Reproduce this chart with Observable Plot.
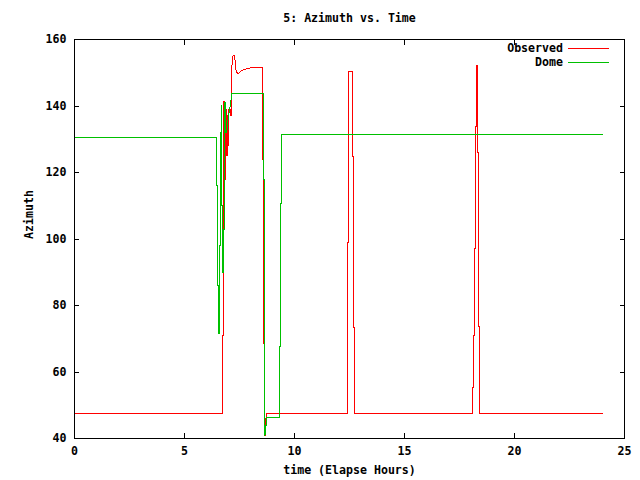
<!DOCTYPE html>
<html>
<head>
<meta charset="utf-8">
<script src="https://cdn.jsdelivr.net/npm/d3@7"></script>
<script src="https://cdn.jsdelivr.net/npm/@observablehq/plot@0.6"></script>
<style>
  html, body { margin: 0; padding: 0; background: #fff; }
  #wrap { position: relative; width: 640px; height: 480px; }
  .legend { position: absolute; font-family: "DejaVu Sans Mono", monospace; font-size: 11.6px; font-weight: bold; color: #000; }
  .legend .label { position: absolute; white-space: nowrap; height: 14px; line-height: 14px; text-align: right; }
  .legend .swatch { position: absolute; width: 41px; height: 1px; }
</style>
</head>
<body>
<div id="wrap"></div>
<script>
// Series: Observed (red)
const obsTime = [0, 6.74, 6.74, 6.79, 6.79, 6.83, 6.83, 6.86, 6.86, 6.9, 6.9, 6.94, 6.94, 6.98, 6.98, 7.02, 7.02, 7.08, 7.08, 7.14, 7.14, 7.2, 7.25, 7.3, 7.35, 7.43, 7.6, 7.75, 8.0, 8.56, 8.56, 8.6, 8.6, 8.64, 8.64, 8.67, 8.67, 8.72, 8.72, 12.42, 12.42, 12.47, 12.47, 12.65, 12.65, 12.7, 12.7, 12.74, 12.74, 18.08, 18.08, 18.12, 18.12, 18.17, 18.17, 18.21, 18.21, 18.26, 18.26, 18.33, 18.33, 18.38, 18.38, 18.42, 18.42, 24];
const obsAz   = [47.5, 47.5, 71, 71, 141.4, 141.4, 118, 118, 139, 139, 125, 125, 137, 137, 128, 128, 139, 139, 137, 137, 151.2, 155, 155.2, 153.7, 150.3, 149.7, 150.7, 151, 151.5, 151.7, 124, 124, 68.5, 68.5, 41, 41, 46, 46, 47.5, 47.5, 99, 99, 150.5, 150.5, 124.8, 124.8, 73.3, 73.3, 47.4, 47.4, 55.4, 55.4, 71, 71, 97, 97, 133.8, 133.8, 152.2, 152.2, 126.1, 126.1, 73.7, 73.7, 47.4, 47.4];

// Series: Dome (green)
const domeTime = [0, 6.47, 6.47, 6.51, 6.51, 6.56, 6.56, 6.6, 6.6, 6.63, 6.63, 6.67, 6.67, 6.7, 6.7, 6.74, 6.74, 6.78, 6.78, 6.83, 6.83, 6.87, 6.87, 6.92, 6.95, 7.0, 7.05, 7.1, 7.15, 8.58, 8.58, 8.62, 8.62, 8.66, 8.66, 8.72, 8.72, 9.33, 9.33, 9.37, 9.37, 9.42, 9.42, 24];
const domeAz   = [130.6, 130.6, 116, 116, 86, 86, 71.5, 71.5, 98, 98, 132, 132, 140.2, 140.2, 110, 110, 90, 90, 103, 103, 141, 141, 132, 132, 134, 137, 139, 141, 143.7, 143.7, 118, 118, 41, 41, 44, 44, 46.2, 46.2, 67.7, 67.7, 110.7, 110.7, 131.5, 131.5];

const xTicks = [0, 5, 10, 15, 20, 25];
const yTicks = [40, 60, 80, 100, 120, 140, 160];
const seriesNames = ["Observed", "Dome"];
const seriesColors = ["#ff0000", "#00c000"];
const titleText = "5: Azimuth vs. Time";
const xLabel = "time (Elapse Hours)";
const yLabel = "Azimuth";

const obs = obsTime.map((t, i) => ({t, az: obsAz[i]}));
const dome = domeTime.map((t, i) => ({t, az: domeAz[i]}));

const chart = Plot.plot({
  width: 640,
  height: 480,
  marginLeft: 74,
  marginRight: 16,
  marginTop: 39,
  marginBottom: 42,
  style: {fontFamily: "'DejaVu Sans Mono', monospace", fontSize: "11.6px", fontWeight: "bold", background: "#fff", color: "#000"},
  x: {domain: [0, 25], ticks: xTicks},
  y: {domain: [40, 160], ticks: yTicks},
  marks: [
    Plot.line(obs, {x: "t", y: "az", stroke: seriesColors[0], strokeWidth: 1, curve: "linear", shapeRendering: "crispEdges"}),
    Plot.line(dome, {x: "t", y: "az", stroke: seriesColors[1], strokeWidth: 1, curve: "linear", shapeRendering: "crispEdges"}),
    Plot.frame({stroke: "#000", strokeWidth: 1, shapeRendering: "crispEdges"}),
    Plot.axisX(xTicks, {anchor: "bottom", tickSize: -5, tickPadding: 13, label: null, shapeRendering: "crispEdges", fill: "#000"}),
    Plot.axisX(xTicks, {anchor: "top", tickSize: -5, tickFormat: () => "", label: null, shapeRendering: "crispEdges"}),
    Plot.axisY(yTicks, {anchor: "left", tickSize: -5, tickPadding: 13, label: null, shapeRendering: "crispEdges", fill: "#000"}),
    Plot.axisY(yTicks, {anchor: "right", tickSize: -5, tickFormat: () => "", label: null, shapeRendering: "crispEdges"}),
    Plot.text([titleText], {frameAnchor: "top", dy: -21, lineAnchor: "middle", fill: "#000"}),
    Plot.text([xLabel], {frameAnchor: "bottom", dy: 32, lineAnchor: "middle", fill: "#000"}),
    Plot.text([yLabel], {frameAnchor: "left", dx: -45, rotate: -90, lineAnchor: "middle", fill: "#000"})
  ]
});

const wrap = document.getElementById("wrap");
wrap.appendChild(chart);

const legend = document.createElement("div");
legend.className = "legend";
legend.style.left = "0px";
legend.style.top = "0px";
legend.style.width = "640px";
legend.style.height = "80px";
seriesNames.forEach((name, i) => {
  const label = document.createElement("div");
  label.className = "label";
  label.textContent = name;
  label.style.right = (640 - 563) + "px";
  label.style.top = (41 + i * 14) + "px";
  const sw = document.createElement("div");
  sw.className = "swatch";
  sw.style.left = "568px";
  sw.style.top = (48 + i * 14) + "px";
  sw.style.background = seriesColors[i];
  legend.appendChild(label);
  legend.appendChild(sw);
});
wrap.appendChild(legend);
</script>
</body>
</html>
